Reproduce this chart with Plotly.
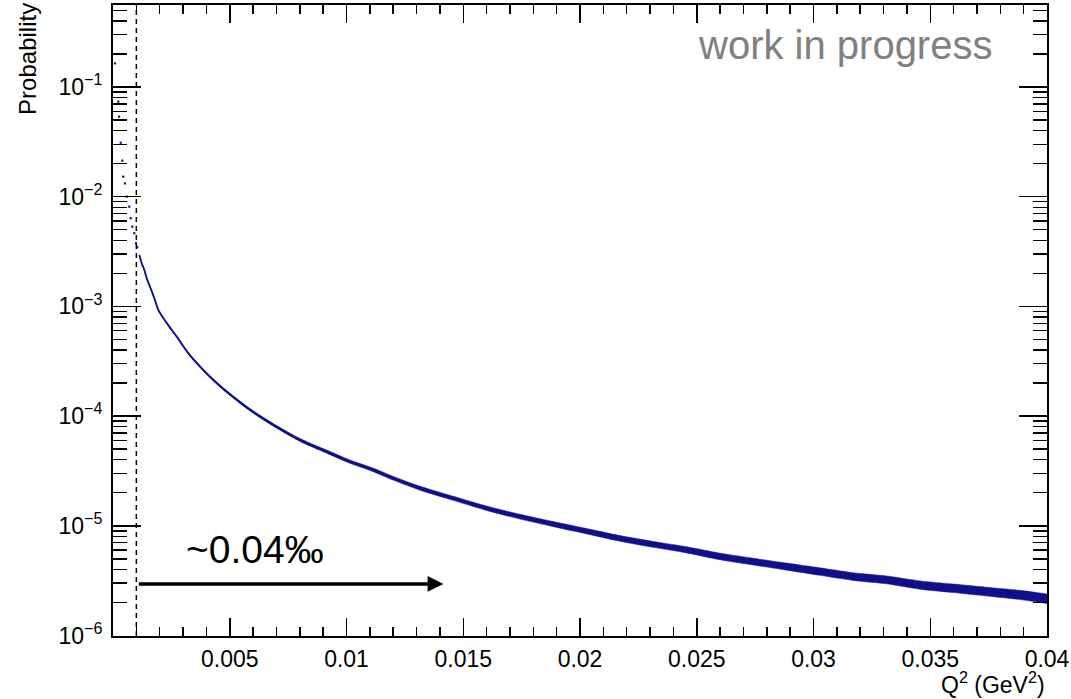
import numpy as np
import plotly.graph_objects as go

# ---- data ----
# sparse first bins (steep part, drawn as separate dots)
q2_sparse = [0.000086, 0.000227, 0.000257, 0.00033, 0.000398, 0.000441, 0.000514,
             0.000587, 0.000698, 0.000758, 0.000827, 0.000912, 0.000985, 0.00104]
prob_sparse = [0.164, 0.0735, 0.0536, 0.031, 0.0213, 0.0152, 0.0132,
               0.0100, 0.0081, 0.00635, 0.00533, 0.00464, 0.00376, 0.00346]

# dense part of the distribution
q2_main = [0.00113, 0.00123, 0.00134, 0.00147, 0.00161, 0.00177, 0.00194, 0.00216,
           0.00241, 0.00273, 0.00323, 0.00373, 0.0043, 0.00478, 0.00587, 0.00687,
           0.00801, 0.00915, 0.01015, 0.01115, 0.0120, 0.01315, 0.01457, 0.016,
           0.01743, 0.01886, 0.02029, 0.02171, 0.02314, 0.02457, 0.026, 0.02742,
           0.02885, 0.03028, 0.0317, 0.03313, 0.03456, 0.03599, 0.03741, 0.03884, 0.04]
prob_main = [2.944e-3, 2.472e-3, 2.148e-3, 1.742e-3, 1.462e-3, 1.186e-3, 9.27e-4, 7.78e-4,
             6.53e-4, 5.30e-4, 3.73e-4, 2.82e-4, 2.13e-4, 1.73e-4, 1.14e-4, 8.30e-5,
             6.05e-5, 4.74e-5, 3.84e-5, 3.23e-5, 2.71e-5, 2.20e-5, 1.78e-5, 1.445e-5,
             1.21e-5, 1.035e-5, 8.91e-6, 7.67e-6, 6.76e-6, 6.03e-6, 5.25e-6, 4.71e-6,
             4.24e-6, 3.82e-6, 3.44e-6, 3.21e-6, 2.88e-6, 2.69e-6, 2.51e-6, 2.34e-6, 2.16e-6]
# half-width of the statistical scatter band (in decades)
band_main = [0.003, 0.003, 0.003, 0.004, 0.004, 0.004, 0.005, 0.005,
             0.006, 0.006, 0.007, 0.008, 0.009, 0.010, 0.011, 0.012,
             0.013, 0.014, 0.015, 0.016, 0.017, 0.018, 0.019, 0.020,
             0.022, 0.023, 0.024, 0.026, 0.027, 0.028, 0.030, 0.031,
             0.032, 0.034, 0.035, 0.036, 0.038, 0.039, 0.040, 0.042, 0.043]

x_tick_vals = [0.005, 0.01, 0.015, 0.02, 0.025, 0.03, 0.035, 0.04]
x_tick_text = ["0.005", "0.01", "0.015", "0.02", "0.025", "0.03", "0.035", "0.04"]
y_tick_vals = [1e-6, 1e-5, 1e-4, 1e-3, 1e-2, 1e-1]
y_tick_text = ["10<sup>\u22126</sup>", "10<sup>\u22125</sup>", "10<sup>\u22124</sup>",
               "10<sup>\u22123</sup>", "10<sup>\u22122</sup>", "10<sup>\u22121</sup>"]
x_minor_vals = [0.001 * k for k in range(0, 41)]
y_minor_vals = [m * 10.0 ** d for d in range(-7, 0) for m in range(2, 10)]

cut_q2 = 0.001
arrow_y = 2.95e-6
arrow_x_end = 0.01415
label_text = "~0.04‰"

NAVY = "#10108a"
FONT = "Liberation Sans, Arial, Helvetica, sans-serif"

pm = np.array(prob_main)
bm = np.array(band_main)
upper = pm * 10 ** bm
lower = pm / 10 ** bm

fig = go.Figure()
fig.add_trace(go.Scatter(x=q2_main, y=lower, mode="lines",
                         line=dict(color=NAVY, width=0.5, shape="spline", smoothing=0.8),
                         showlegend=False, hoverinfo="skip"))
fig.add_trace(go.Scatter(x=q2_main, y=upper, mode="lines",
                         line=dict(color=NAVY, width=0.5, shape="spline", smoothing=0.8),
                         fill="tonexty", fillcolor=NAVY, showlegend=False, hoverinfo="skip"))
fig.add_trace(go.Scatter(x=q2_main, y=prob_main, mode="lines",
                         line=dict(color=NAVY, width=1.8, shape="spline", smoothing=0.8),
                         showlegend=False))
fig.add_trace(go.Scatter(x=q2_sparse, y=prob_sparse, mode="markers",
                         marker=dict(color=NAVY, size=2.2, symbol="square"), showlegend=False))

# dashed cut line
fig.add_shape(type="line", xref="x", yref="paper", x0=cut_q2, x1=cut_q2, y0=0, y1=1,
              line=dict(color="black", width=1.5, dash="5px,4px"))

# arrow
fig.add_annotation(x=arrow_x_end, y=np.log10(arrow_y), ax=cut_q2 + 0.00004, ay=np.log10(arrow_y),
                   xref="x", yref="y", axref="x", ayref="y", text="", showarrow=True,
                   arrowhead=2, arrowsize=0.9, arrowwidth=3.5, arrowcolor="black", standoff=0)
fig.add_annotation(x=0.00608, y=np.log10(arrow_y) + 0.31, xref="x", yref="y", text=label_text,
                   showarrow=False, xanchor="center", yanchor="middle",
                   font=dict(family=FONT, size=39, color="black"))
fig.add_annotation(x=0.7837, y=0.9366, xref="paper", yref="paper", text="work in progress",
                   showarrow=False, xanchor="center", yanchor="middle",
                   font=dict(family=FONT, size=40, color="#808080"))
# axis titles
fig.add_annotation(x=-0.091, y=1.0065, xref="paper", yref="paper", text="Probability",
                   textangle=-90, showarrow=False, xanchor="center", yanchor="top",
                   font=dict(family=FONT, size=24, color="black"))
fig.add_annotation(x=1.0, y=-0.0745, xref="paper", yref="paper",
                   text="Q<sup>2</sup> (GeV<sup>2</sup>)",
                   showarrow=False, xanchor="right", yanchor="middle",
                   font=dict(family=FONT, size=23, color="black"))

fig.update_xaxes(range=[0, 0.04], tickmode="array", tickvals=x_tick_vals, ticktext=x_tick_text,
                 ticks="inside", ticklen=18, tickwidth=1.5, tickcolor="black",
                 showline=True, linecolor="black", linewidth=2, mirror="allticks",
                 showgrid=False, zeroline=False, ticklabelstandoff=1,
                 tickfont=dict(family=FONT, size=23, color="black"),
                 minor=dict(tickmode="array", tickvals=x_minor_vals, ticks="inside",
                            ticklen=9, tickwidth=1.5, tickcolor="black", showgrid=False))
fig.update_yaxes(type="log", range=[-6.005, -0.253], tickmode="array",
                 tickvals=y_tick_vals, ticktext=y_tick_text,
                 ticks="inside", ticklen=28, tickwidth=1.5, tickcolor="black",
                 showline=True, linecolor="black", linewidth=2, mirror="allticks",
                 showgrid=False, zeroline=False, ticklabelstandoff=4,
                 tickfont=dict(family=FONT, size=23, color="black"),
                 minor=dict(tickmode="array", tickvals=y_minor_vals, ticks="inside",
                            ticklen=14, tickwidth=1.5, tickcolor="black", showgrid=False))

fig.update_layout(width=1071, height=699, margin=dict(l=113, r=24, t=5, b=63, autoexpand=False),
                  paper_bgcolor="white", plot_bgcolor="white", font=dict(family=FONT),
                  hovermode=False)

fig.write_html("out.html", config={"displayModeBar": False, "staticPlot": True},
               post_script="document.body.style.margin='0px';")
